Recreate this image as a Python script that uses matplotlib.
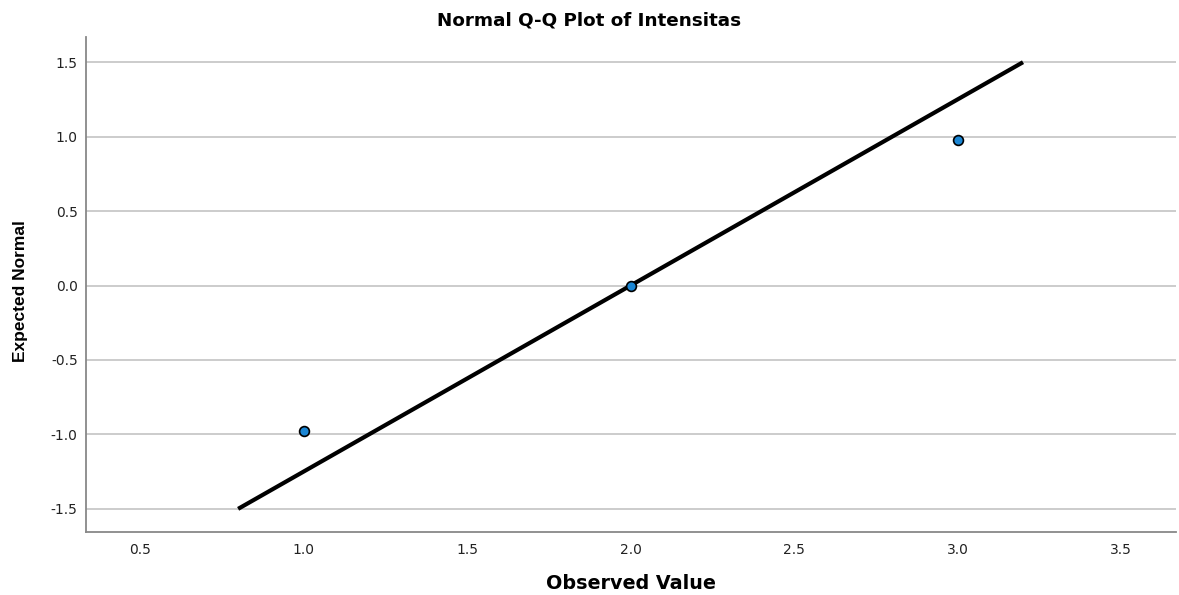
import matplotlib
matplotlib.use("Agg")
import matplotlib.pyplot as plt

# observed values and their expected normal scores
observed = [1.0, 2.0, 3.0]
expected = [-0.98, 0.0, 0.98]

# reference line end points
line_x = [0.8, 3.2]
line_y = [-1.5, 1.5]

x_ticks = [0.5, 1.0, 1.5, 2.0, 2.5, 3.0, 3.5]
y_ticks = [-1.5, -1.0, -0.5, 0.0, 0.5, 1.0, 1.5]

plt.rcParams['font.family'] = ['DejaVu Sans']

fig = plt.figure(figsize=(11.79, 5.95), dpi=100)
ax = fig.add_axes([0.073, 0.106, 0.9245, 0.832])

for y in y_ticks:
    ax.axhline(y, color="#c8c8c8", lw=1.3, zorder=0)

ax.plot(line_x, line_y, color="black", lw=3.0, solid_capstyle="butt", zorder=2)
ax.scatter(observed, expected, s=50, color="#1b86d4", edgecolor="black", linewidth=1.2, zorder=3)

ax.set_xlim(0.335, 3.668)
ax.set_ylim(-1.655, 1.67)
ax.set_xticks(x_ticks)
ax.set_yticks(y_ticks)
ax.set_xticklabels([f"{v:.1f}" for v in x_ticks])
ax.set_yticklabels([f"{v:.1f}" for v in y_ticks])
ax.tick_params(length=0, labelsize=10, colors="#222222")
ax.tick_params(axis="y", pad=6)
ax.tick_params(axis="x", pad=8)

for s in ["top", "right"]:
    ax.spines[s].set_visible(False)
for s in ["left", "bottom"]:
    ax.spines[s].set_color("#888888")
    ax.spines[s].set_linewidth(1.3)

# title is centred on the whole figure, not the axes
fig.text(0.5, 1 - 20 / 595, "Normal Q-Q Plot of Intensitas", ha="center", va="center",
         fontsize=13.2, fontweight="bold")
ax.set_xlabel("Observed Value", fontsize=13.8, fontweight="bold", labelpad=12)
ax.set_ylabel("Expected Normal", fontsize=12.5, fontweight="bold",
              family="Liberation Sans")
ax.yaxis.set_label_coords(-0.053, 0.487)

fig.savefig("out.png", dpi=100)
